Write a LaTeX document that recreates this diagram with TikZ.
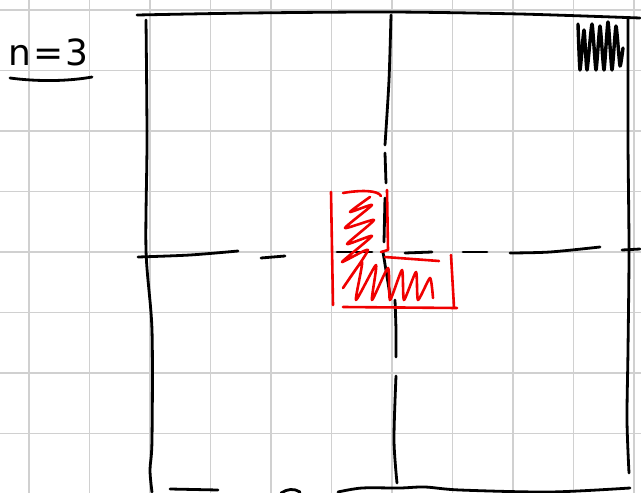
\documentclass[tikz,border=0pt]{standalone}
\usepackage{tikz}
\usepackage{fontspec}
\setsansfont{DejaVu Sans}
\definecolor{gridGray}{HTML}{D0D0D0}
\definecolor{penRed}{HTML}{F00000}

\begin{document}
\begin{tikzpicture}[
  x=1pt, y=-1pt,
  paper/.style={draw=gridGray, line width=1.8pt},
  pen/.style={draw=black, line width=2.8pt, line cap=round, line join=round},
  redpen/.style={draw=penRed, line width=2.6pt, line cap=round, line join=round},
  label/.style={font=\sffamily\fontsize{36}{36}\selectfont, inner sep=0pt},
]
\useasboundingbox (0,0) rectangle (641,493);

% grid paper
\foreach \gx in {29,89.5,150,210.5,271,331.5,392,452.5,513,573.5,634}
  \draw[paper] (\gx,0) -- (\gx,493);
\foreach \gy in {10,70.5,131,191.5,252,312.5,373,433.5}
  \draw[paper] (0,\gy) -- (641,\gy);

% label
\node[label, anchor=base west] (size) at (8,65) {n\kern2pt=\kern2pt3};
\draw[pen] (10,78) .. controls (40,82) and (70,81) .. (92,77);

% outer square
\draw[pen] plot[smooth] coordinates {(137,15) (250,13) (390,12) (520,14) (640,18)};
\draw[pen] plot[smooth] coordinates {(146,20) (147,140) (146,250) (152,330) (152,440) (150,470) (152,492)};
\draw[pen] plot[smooth] coordinates {(628,18) (628,140) (629,250) (628,350) (627,420) (629,473)};
\draw[pen] (170,489) -- (218,490);
\draw[pen] (281,493) .. controls (287,489) and (294,488) .. (300,492);
\draw[pen] plot[smooth] coordinates {(338,492) (362,488) (400,488) (425,487) (460,490) (550,492) (630,488)};

% middle cut lines
\draw[pen] plot[smooth] coordinates {(391,15) (389,80) (385,145)};
\draw[pen] (385,153) -- (386,183);
\draw[pen] (385,198) -- (384,242);
\draw[pen] (383,252) -- (390,295);
\draw[pen] plot[smooth] coordinates {(395,300) (396,330) (396,357)};
\draw[pen] plot[smooth] coordinates {(396,376) (394,440) (397,483)};
\draw[pen] plot[smooth] coordinates {(138,257) (190,255) (238,251)};
\draw[pen] (261,258) -- (285,256);
\draw[pen] (337,252) -- (372,252);
\draw[pen] (405,253) -- (432,252);
\draw[pen] (463,252) -- (487,252);
\draw[pen] plot[smooth] coordinates {(510,253) (550,252) (600,247)};
\draw[pen] (622,250) -- (640,249);

% corner scribble
\draw[pen, line width=3.4pt] plot[smooth, tension=0.3] coordinates {(578,24) (580,70) (584,30) (587,70) (592,24)
  (596,70) (600,26) (604,70) (608,22) (612,70) (616,26) (620,66) (623,48)};

% red tromino
\draw[redpen] (331,192) -- (333,305);
\draw[redpen] (343,193) .. controls (360,190) and (378,190) .. (381,196);
\draw[redpen] (387,190) -- (388,250) -- (381,252);
\draw[redpen] (385,257) -- (439,261);
\draw[redpen] (451,255) -- (454,307);
\draw[redpen] (343,307) -- (457,308);
\draw[redpen] plot[smooth, tension=0.35] coordinates {(370,197) (350,212) (372,205) (345,228) (374,220) (347,244)
  (372,236) (342,262) (368,250) (343,288) (362,262) (356,300) (376,265) (372,300) (388,268) (390,300)
  (402,270) (404,300) (416,272) (418,300) (430,278) (433,298)};
\end{tikzpicture}
\end{document}
